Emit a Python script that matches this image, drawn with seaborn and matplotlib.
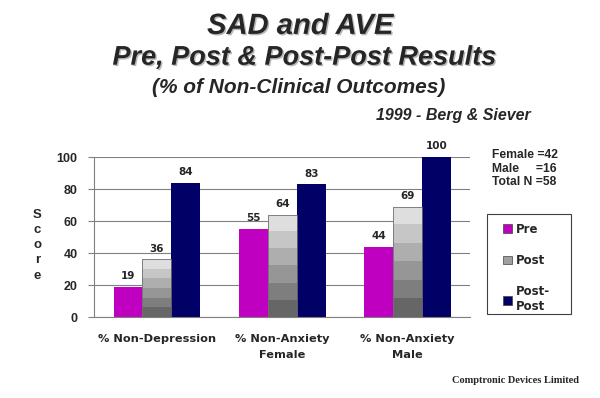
import numpy as np
import pandas as pd
import matplotlib
matplotlib.use("Agg")
import matplotlib.pyplot as plt
import matplotlib.patheffects as pe
from matplotlib.patches import Patch, Rectangle
import seaborn as sns

# data
categories = ["% Non-Depression", "% Non-Anxiety\nFemale", "% Non-Anxiety\nMale"]
phases = ["Pre", "Post", "Post-Post"]
pre = [19, 55, 44]
post = [36, 64, 69]
post_post = [84, 83, 100]
yticks = [0, 20, 40, 60, 80, 100]

df = pd.DataFrame({
    "category": categories * 3,
    "phase": [p for p in phases for _ in categories],
    "score": pre + post + post_post,
})

sns.set_style("white")
plt.rcParams["font.family"] = ["Liberation Sans", "DejaVu Sans"]

colors = {"Pre": "#c000c0", "Post": "#b0b0b0", "Post-Post": "#000066"}

fig = plt.figure(figsize=(6, 3.98), dpi=100)
ax = fig.add_axes([0.157, 0.2035, 0.627, 0.402])

sns.barplot(data=df, x="category", y="score", hue="phase", palette=colors,
            width=0.69, gap=0, ax=ax, legend=False, saturation=1,
            edgecolor="none")

# banded grey gradient on the Post bars
grad = np.linspace(0.87, 0.4, 6).reshape(-1, 1)
for bar in ax.containers[1]:
    x0, y0 = bar.get_x(), bar.get_y()
    w, h = bar.get_width(), bar.get_height()
    im = ax.imshow(grad, cmap="gray", vmin=0, vmax=1, aspect="auto",
                   extent=[x0, x0 + w, y0, y0 + h], origin="upper",
                   interpolation="nearest", zorder=bar.get_zorder() + 0.1)
    im.set_clip_path(bar)
    bar.set_facecolor("none")
    bar.set_edgecolor("#707070")
    bar.set_linewidth(0.6)
    bar.set_zorder(bar.get_zorder() + 0.2)

ax.set_xlim(-0.5, 2.5)
ax.set_ylim(0, 100)

# value labels
for cont in ax.containers:
    ax.bar_label(cont, padding=4, fontsize=7.5, fontweight="bold",
                 family="DejaVu Sans")

ax.set_yticks(yticks)
ax.set_yticklabels([str(t) for t in yticks], fontsize=9, fontweight="bold")
ax.set_xticks([0, 1, 2])
ax.set_xticklabels(categories, fontsize=8.2, fontweight="bold",
                   family="DejaVu Sans", linespacing=1.75)
ax.set_xticks([-0.5, 0.5, 1.5, 2.5], minor=True)
ax.tick_params(axis="x", which="major", length=0, pad=12)
ax.tick_params(axis="x", which="minor", length=4, color="#808080", direction="out")
ax.tick_params(axis="y", length=4, color="#808080", direction="out", left=True, pad=8)
ax.set_xlabel("")
ax.set_ylabel("")
ax.yaxis.grid(True, color="#808080", linewidth=0.8)
ax.set_axisbelow(True)
for s in ["top", "right"]:
    ax.spines[s].set_visible(False)
for s in ["left", "bottom"]:
    ax.spines[s].set_color("#808080")
    ax.spines[s].set_linewidth(0.8)

# y label as stacked letters
fig.text(0.062, 0.475, "S\nc\no\nr\ne", fontsize=9.5, fontweight="bold",
         ha="center", va="top", linespacing=1.35)

# titles with a light shadow
shadow = [pe.SimplePatchShadow(offset=(1, -1), shadow_rgbFace="#b8b8b8", alpha=1),
          pe.Normal()]
fig.text(0.5, 0.935, "SAD and AVE", fontsize=21, fontweight="bold",
         style="italic", ha="center", va="center", path_effects=shadow)
fig.text(0.508, 0.855, "Pre, Post & Post-Post Results", fontsize=19.5,
         fontweight="bold", style="italic", ha="center", va="center",
         path_effects=shadow)
fig.text(0.497, 0.78, "(% of Non-Clinical Outcomes)", fontsize=15,
         fontweight="bold", style="italic", ha="center", va="center")
fig.text(0.755, 0.71, "1999 - Berg & Siever", fontsize=11.5,
         fontweight="bold", style="italic", ha="center", va="center")

fig.text(0.82, 0.625, "Female =42\nMale     =16\nTotal N =58", fontsize=8.7,
         fontweight="bold", ha="left", va="top", linespacing=1.15)

fig.text(0.86, 0.045, "Comptronic Devices Limited", fontsize=7.5,
         fontweight="bold", family="Liberation Serif", ha="center", va="center")

# legend box drawn separately, legend entries inside it
fig.patches.append(Rectangle((487 / 600, 1 - 314 / 398), 84 / 600, 100 / 398,
                             transform=fig.transFigure, facecolor="white",
                             edgecolor="#404040", linewidth=0.8))
handles = [Patch(facecolor=colors["Pre"], edgecolor="#404040", linewidth=0.5),
           Patch(facecolor="#a0a0a0", edgecolor="#404040", linewidth=0.5),
           Patch(facecolor=colors["Post-Post"], edgecolor="#404040", linewidth=0.5)]
leg = fig.legend(handles, ["Pre", "Post", "Post-\nPost"], loc="upper left",
                 bbox_to_anchor=(0.828, 0.455), frameon=False,
                 prop={"family": "DejaVu Sans", "weight": "bold", "size": 8.5},
                 handlelength=0.75, handleheight=0.75, handletextpad=0.35,
                 labelspacing=1.55, borderpad=0.5, borderaxespad=0)

fig.savefig("out.png", dpi=100)
